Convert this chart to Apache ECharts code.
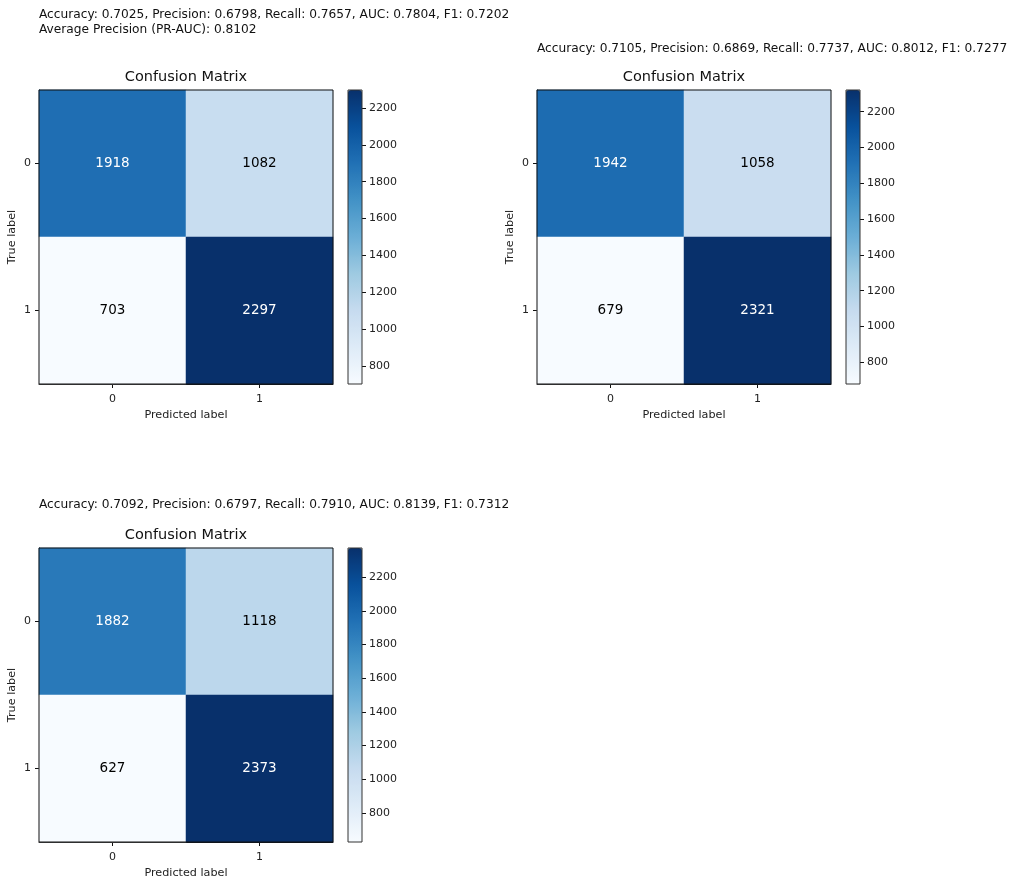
<!DOCTYPE html>
<html>
<head>
<meta charset="utf-8">
<script src="https://cdn.jsdelivr.net/npm/echarts@6/dist/echarts.min.js"></script>
<style>html,body{margin:0;padding:0;background:#fff;}#main{width:1024px;height:885px;}</style>
</head>
<body>
<div id="main"></div>
<script>
// ---- data ----
const classLabels = ['0', '1'];
const cmModel1 = [[1918, 1082], [703, 2297]];
const cmModel2 = [[1942, 1058], [679, 2321]];
const cmModel3 = [[1882, 1118], [627, 2373]];
const colorbarTicks = [800, 1000, 1200, 1400, 1600, 1800, 2000, 2200];
const metricsText1 = 'Accuracy: 0.7025, Precision: 0.6798, Recall: 0.7657, AUC: 0.7804, F1: 0.7202\nAverage Precision (PR-AUC): 0.8102';
const metricsText2 = 'Accuracy: 0.7105, Precision: 0.6869, Recall: 0.7737, AUC: 0.8012, F1: 0.7277';
const metricsText3 = 'Accuracy: 0.7092, Precision: 0.6797, Recall: 0.7910, AUC: 0.8139, F1: 0.7312';
const panelTitle = 'Confusion Matrix';
const xAxisName = 'Predicted label';
const yAxisName = 'True label';

// ---- layout ----
const FONT = 'DejaVu Sans';
const blues = ['#f7fbff','#deebf7','#c6dbef','#9ecae1','#6baed6','#4292c6','#2171b5','#08519c','#08306b'];
const panels = [
  { cm: cmModel1, text: metricsText1, textTop: 7, left: 39, top: 90 },
  { cm: cmModel2, text: metricsText2, textTop: 41, left: 537, top: 90 },
  { cm: cmModel3, text: metricsText3, textTop: 497, left: 39, top: 548 }
];
const SIZE = 294, CB_GAP = 15, CB_W = 14;

const option = { animation: false, backgroundColor: '#fff', title: [], grid: [], xAxis: [], yAxis: [], series: [], visualMap: [] };

panels.forEach((p, i) => {
  const flat = p.cm.flat();
  const vmin = Math.min(...flat), vmax = Math.max(...flat);
  const thresh = vmax / 2;
  const data = [];
  p.cm.forEach((row, r) => row.forEach((v, c) => {
    data.push({ value: [c, r, v], label: { color: v > thresh ? '#ffffff' : '#000000' } });
  }));

  option.title.push({
    text: p.text, left: p.left, top: p.textTop, padding: 0,
    textStyle: { fontFamily: FONT, fontSize: 12.2, fontWeight: 'normal', color: '#111', lineHeight: 15 }
  });
  option.title.push({
    text: panelTitle, left: p.left + SIZE / 2, top: p.top - 20, textAlign: 'center', padding: 0,
    textStyle: { fontFamily: FONT, fontSize: 14.5, fontWeight: 'normal', color: '#111' }
  });

  // heatmap grid
  const gi = option.grid.length;
  option.grid.push({ left: p.left, top: p.top, width: SIZE, height: SIZE, show: true, z: 10,
    backgroundColor: 'transparent', borderColor: '#111', borderWidth: 1 });
  option.xAxis.push({
    type: 'category', gridIndex: gi, data: classLabels,
    axisLine: { show: true, onZero: false, lineStyle: { color: '#111', width: 1 } },
    splitLine: { show: false }, splitArea: { show: false },
    axisTick: { show: true, alignWithLabel: true, length: 4, lineStyle: { color: '#111', width: 1 } },
    axisLabel: { fontFamily: FONT, fontSize: 11, color: '#222', margin: 10 },
    name: xAxisName, nameLocation: 'middle', nameGap: 26,
    nameTextStyle: { fontFamily: FONT, fontSize: 11.2, color: '#222' }
  });
  option.yAxis.push({
    type: 'category', gridIndex: gi, data: classLabels, inverse: true,
    axisLine: { show: true, onZero: false, lineStyle: { color: '#111', width: 1 } },
    splitLine: { show: false }, splitArea: { show: false },
    axisTick: { show: true, alignWithLabel: true, length: 4, lineStyle: { color: '#111', width: 1 } },
    axisLabel: { fontFamily: FONT, fontSize: 11, color: '#222', margin: 8 },
    name: yAxisName, nameLocation: 'middle', nameGap: 21,
    nameTextStyle: { fontFamily: FONT, fontSize: 11.2, color: '#222' }
  });
  const si = option.series.length;
  option.series.push({
    type: 'heatmap', xAxisIndex: gi, yAxisIndex: gi, data: data,
    label: { show: true, fontFamily: FONT, fontSize: 13.5, formatter: (d) => String(d.value[2]) },
    emphasis: { disabled: true }
  });
  option.visualMap.push({
    type: 'continuous', seriesIndex: si, min: vmin, max: vmax, calculable: false,
    inRange: { color: blues }, left: p.left + SIZE + CB_GAP, top: p.top,
    itemWidth: CB_W, itemHeight: SIZE, padding: 0, text: null, showLabel: false, hoverLink: false
  });

  // colorbar axis grid
  const cgi = option.grid.length;
  option.grid.push({ left: p.left + SIZE + CB_GAP, top: p.top, width: CB_W, height: SIZE, show: true, z: 10,
    backgroundColor: 'transparent', borderColor: '#333', borderWidth: 1 });
  option.xAxis.push({ type: 'value', gridIndex: cgi, show: false, min: 0, max: 1 });
  option.yAxis.push({
    type: 'value', gridIndex: cgi, position: 'right', min: vmin, max: vmax,
    axisLine: { show: false, onZero: false }, splitLine: { show: false },
    axisTick: { show: true, length: 4, customValues: colorbarTicks, lineStyle: { color: '#111', width: 1 } },
    axisLabel: { fontFamily: FONT, fontSize: 11, color: '#222', margin: 7, customValues: colorbarTicks,
      formatter: (v) => String(v) }
  });
});

const chart = echarts.init(document.getElementById('main'));
chart.setOption(option);
</script>
</body>
</html>
